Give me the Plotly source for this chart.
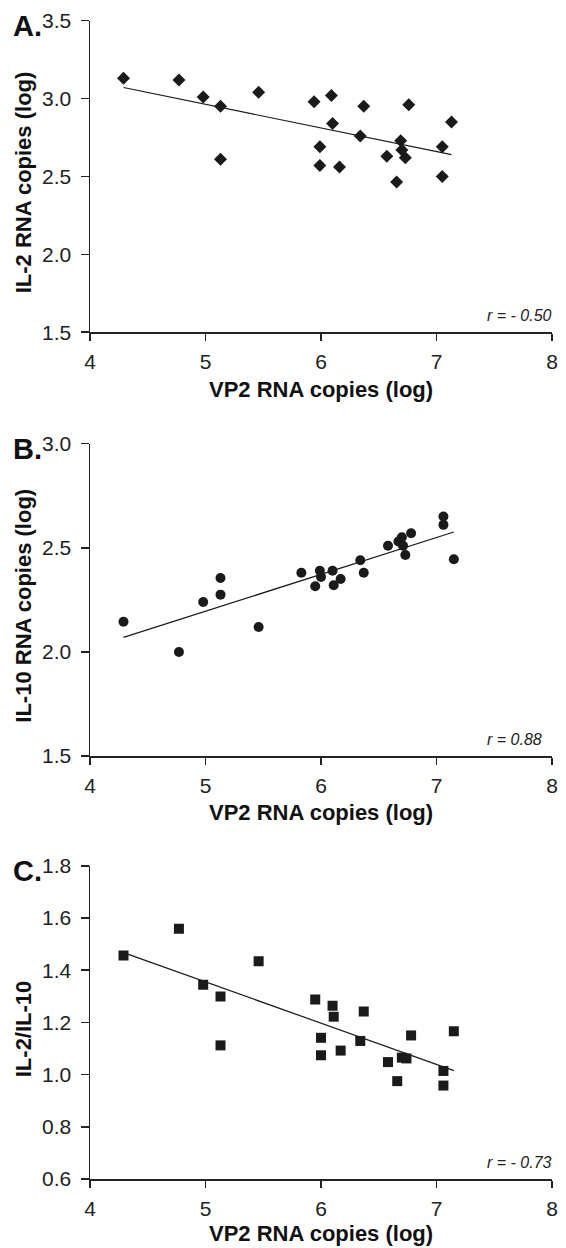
import numpy as np
import plotly.graph_objects as go

# ---------------- data ----------------
vp2_A = [4.29, 4.77, 4.98, 5.13, 5.13, 5.46, 5.94, 5.99, 5.99, 6.09, 6.10, 6.16,
         6.34, 6.37, 6.57, 6.655, 6.69, 6.70, 6.73, 6.76, 7.05, 7.05, 7.13]
il2 = [3.13, 3.12, 3.01, 2.95, 2.61, 3.04, 2.98, 2.69, 2.57, 3.02, 2.84, 2.56,
       2.76, 2.95, 2.63, 2.465, 2.73, 2.67, 2.62, 2.96, 2.69, 2.50, 2.85]

vp2_B = [4.29, 4.77, 4.98, 5.13, 5.13, 5.46, 5.83, 5.95, 5.99, 6.00, 6.10, 6.11,
         6.17, 6.34, 6.37, 6.58, 6.67, 6.70, 6.71, 6.73, 6.78, 7.06, 7.06, 7.15]
il10 = [2.145, 2.00, 2.24, 2.355, 2.275, 2.12, 2.38, 2.315, 2.39, 2.36, 2.39, 2.32,
        2.35, 2.44, 2.38, 2.51, 2.53, 2.55, 2.51, 2.465, 2.57, 2.65, 2.61, 2.445]

vp2_C = [4.29, 4.77, 4.98, 5.13, 5.13, 5.46, 5.95, 6.00, 6.00, 6.10, 6.11, 6.17,
         6.34, 6.37, 6.58, 6.66, 6.70, 6.74, 6.78, 7.06, 7.06, 7.15]
ratio = [1.456, 1.559, 1.344, 1.299, 1.112, 1.434, 1.288, 1.141, 1.074, 1.264, 1.222, 1.092,
         1.129, 1.242, 1.048, 0.975, 1.065, 1.062, 1.150, 1.014, 0.958, 1.166]

r_labels = ["r = - 0.50", "r = 0.88", "r = - 0.73"]
panel_labels = ["A.", "B.", "C."]
y_titles = ["IL-2 RNA copies (log)", "IL-10 RNA copies (log)", "IL-2/IL-10"]
x_title = "VP2 RNA copies (log)"
y_ranges = [[1.5, 3.5], [1.5, 3.0], [0.6, 1.8]]
y_dticks = [0.5, 0.5, 0.2]
x_range = [4, 8]

# ---------------- layout geometry (pixels) ----------------
W, H = 566, 1248
L, R, T, B = 90, 8, 17, 69
pw, ph = W - L - R, H - T - B
panel_px = [(17.7, 330.0), (441.7, 755.0), (865.0, 1179.0)]  # (top, bottom) in px
xtitle_off = [57, 57, 55]


def px_x(px):
    return (px - L) / pw


def px_y(py):
    return (H - B - py) / ph


fig = go.Figure()

series = [(vp2_A, il2, "diamond", 10), (vp2_B, il10, "circle", 10), (vp2_C, ratio, "square", 10)]
ink = "#1a1a1a"
font_family = "Liberation Sans, Arial, sans-serif"

for i, (xs, ys, sym, sz) in enumerate(series):
    xa = "x" if i == 0 else f"x{i+1}"
    ya = "y" if i == 0 else f"y{i+1}"
    xs_a = np.array(xs)
    ys_a = np.array(ys)
    slope, icpt = np.polyfit(xs_a, ys_a, 1)
    lx = np.array([xs_a.min(), xs_a.max()])
    fig.add_trace(go.Scatter(x=lx, y=slope * lx + icpt, mode="lines",
                             line=dict(color=ink, width=1.2), xaxis=xa, yaxis=ya,
                             showlegend=False, hoverinfo="skip"))
    fig.add_trace(go.Scatter(x=xs, y=ys, mode="markers",
                             marker=dict(symbol=sym, size=sz, color=ink, line=dict(width=0)),
                             xaxis=xa, yaxis=ya, showlegend=False))

axis_common = dict(showgrid=False, zeroline=False, showline=True, linecolor="#222",
                   linewidth=1.5, ticks="outside", tickcolor="#222", tickwidth=1.5,
                   tickfont=dict(family=font_family, size=21, color="#222"))

for i in range(3):
    top, bot = panel_px[i]
    xk = "xaxis" if i == 0 else f"xaxis{i+1}"
    yk = "yaxis" if i == 0 else f"yaxis{i+1}"
    xa_name = "x" if i == 0 else f"x{i+1}"
    ya_name = "y" if i == 0 else f"y{i+1}"
    fig.update_layout({
        xk: dict(axis_common, domain=[0, 1], range=x_range, dtick=1, tick0=4,
                 ticklen=7, ticklabelstandoff=3, anchor=ya_name),
        yk: dict(axis_common, domain=[px_y(bot), px_y(top)], range=y_ranges[i],
                 dtick=y_dticks[i], tick0=y_ranges[i][0], tickformat=".1f",
                 ticklen=8, ticklabelstandoff=5, anchor=xa_name),
    })
    # x title
    fig.add_annotation(text=f"<b>{x_title}</b>", xref="paper", yref="paper",
                       x=px_x(324), y=px_y(bot + xtitle_off[i]), xanchor="center", yanchor="middle",
                       showarrow=False, font=dict(family=font_family, size=22, color="#111"))
    # y title
    fig.add_annotation(text=f"<b>{y_titles[i]}</b>", xref="paper", yref="paper",
                       x=px_x(23), y=px_y((top + bot) / 2 + 6), xanchor="center", yanchor="middle",
                       textangle=-90, showarrow=False,
                       font=dict(family=font_family, size=22, color="#111"))
    # panel label
    fig.add_annotation(text=f"<b>{panel_labels[i]}</b>", xref="paper", yref="paper",
                       x=px_x(10), y=px_y(top + 5), xanchor="left", yanchor="middle",
                       showarrow=False, font=dict(family=font_family, size=29, color="#111"))
    # r annotation
    r_right = 550 if i == 1 else 560
    fig.add_annotation(text=f"<i>{r_labels[i]}</i>", xref="paper", yref="paper",
                       x=px_x(r_right), y=px_y(bot - 17), xanchor="right", yanchor="middle",
                       showarrow=False, font=dict(family=font_family, size=16, color="#222"))

fig.update_layout(width=W, height=H, margin=dict(l=L, r=R, t=T, b=B),
                  paper_bgcolor="white", plot_bgcolor="white")

fig.write_html("out.html", config={"displayModeBar": False, "staticPlot": True})

# remove the browser's default page margin so the figure fills the window exactly
with open("out.html", "r", encoding="utf-8") as f:
    html = f.read()
html = html.replace("<head>", "<head><style>html,body{margin:0;padding:0;overflow:hidden;}</style>", 1)
with open("out.html", "w", encoding="utf-8") as f:
    f.write(html)
